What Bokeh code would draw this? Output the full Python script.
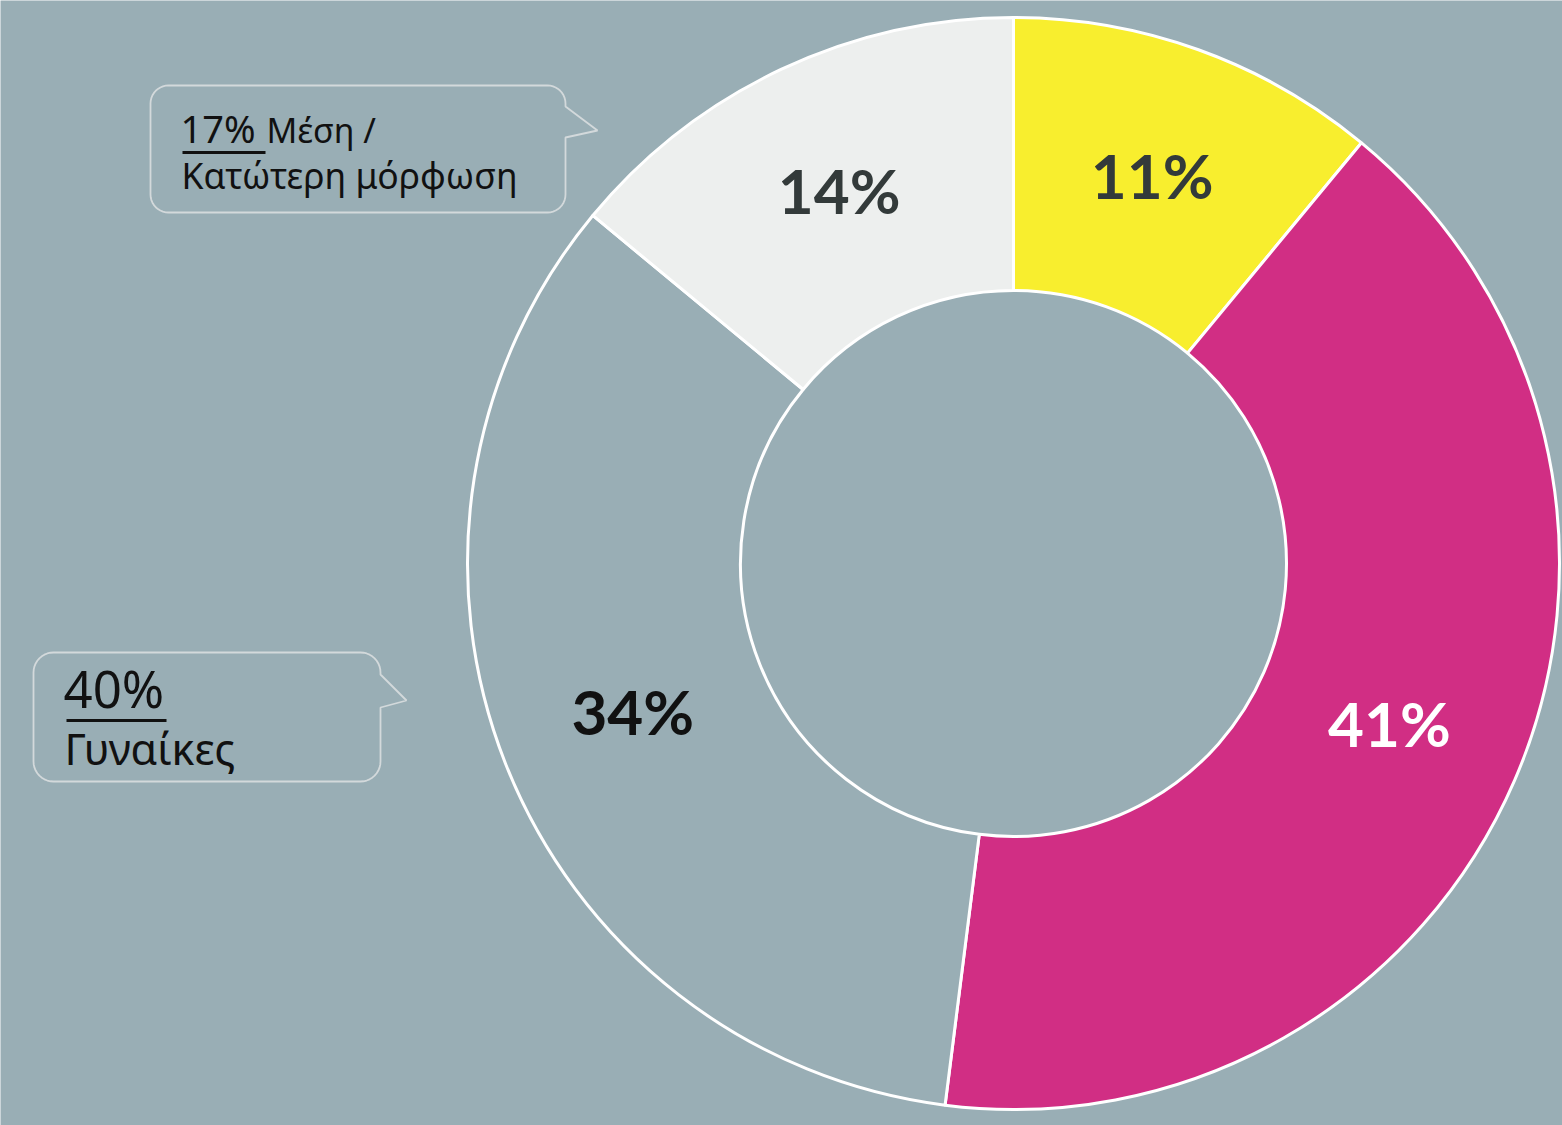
import math
from bokeh.plotting import figure
from bokeh.models import Range1d, ColumnDataSource
from bokeh.core.properties import value
from bokeh.embed import file_html
from bokeh.resources import INLINE

# ---- data ----
labels = ["11%", "41%", "34%", "14%"]
values = [11, 41, 34, 14]
slice_colors = ["#F8EE2E", "#D12E84", "#99AEB5", "#EDEFEE"]
label_colors = ["#333A3A", "#FFFFFF", "#111111", "#333A3A"]

callout1_pct = "17% "
callout1_line1 = "Μέση /"
callout1_line2 = "Κατώτερη μόρφωση"
callout2_pct = "40%"
callout2_line2 = "Γυναίκες"

BG = "#99AEB5"
W, H = 1562, 1125


def X(px):
    return px


def Y(py):
    return H - py


p = figure(width=W, height=H, output_backend="svg", toolbar_location=None,
           x_range=Range1d(0, W), y_range=Range1d(0, H),
           min_border=0, background_fill_color=BG, border_fill_color=BG)
p.axis.visible = False
p.grid.visible = False
p.outline_line_color = None

cx, cy = X(1013), Y(563)
r_out, r_in = 546, 273

total = float(sum(values))
starts, ends, lx, ly = [], [], [], []
cum = 0.0
for v in values:
    a0 = math.pi / 2 - 2 * math.pi * cum / total
    cum += v
    a1 = math.pi / 2 - 2 * math.pi * cum / total
    starts.append(a0)
    ends.append(a1)
    mid = (a0 + a1) / 2
    rm = (r_in + r_out) / 2
    lx.append(cx + rm * math.cos(mid))
    ly.append(cy + rm * math.sin(mid))

src = ColumnDataSource(dict(start=starts, end=ends, color=slice_colors,
                            label=labels, lx=lx, ly=ly, lc=label_colors))
p.annular_wedge(x=cx, y=cy, inner_radius=r_in, outer_radius=r_out,
                start_angle="start", end_angle="end", direction="clock",
                fill_color="color", line_color="white", line_width=3, source=src)
p.text(x="lx", y="ly", text="label", source=src, text_color="lc",
       text_font=value("Lato"), text_font_style="bold", text_font_size="62px",
       text_align="center", text_baseline="middle", y_offset=-3)


# ---- callout boxes ----
def callout_path(left, top, right, bottom, rad, tail_top, tip_x, tip_y, tail_bot):
    xs, ys = [], []

    def arc(cxp, cyp, a0, a1, n=10):
        for i in range(n + 1):
            a = math.radians(a0 + (a1 - a0) * i / n)
            xs.append(X(cxp + rad * math.cos(a)))
            ys.append(Y(cyp - rad * math.sin(a)))

    arc(left + rad, top + rad, 180, 90)          # top-left
    arc(right - rad, top + rad, 90, 0)           # top-right
    xs.append(X(right)); ys.append(Y(tail_top))
    xs.append(X(tip_x)); ys.append(Y(tip_y))
    xs.append(X(right)); ys.append(Y(tail_bot))
    arc(right - rad, bottom - rad, 0, -90)       # bottom-right
    arc(left + rad, bottom - rad, -90, -180)     # bottom-left
    xs.append(xs[0]); ys.append(ys[0])
    return xs, ys


for box in [(150, 85, 565, 212, 18, 106, 597, 130, 137),
            (33, 652, 380, 781, 20, 674, 406, 700, 707)]:
    bx, by = callout_path(*box)
    p.patch(bx, by, fill_color=BG, line_color="#D3D9DB", line_width=1.8)

TXT = "#111111"
FONT = value("Noto Sans")


def label_text(px, baseline_py, txt, size):
    p.text(x=[X(px)], y=[Y(baseline_py)], text=[txt], text_font=FONT,
           text_font_size="%.1fpx" % size, text_color=TXT, text_align="left",
           text_baseline="alphabetic", y_offset=-0.4 * size)


# callout 1
label_text(180, 143, callout1_pct, 38)
label_text(266, 143, callout1_line1, 34)
label_text(181, 189, callout1_line2, 35.5)
p.segment(x0=[X(182)], y0=[Y(152)], x1=[X(265)], y1=[Y(152)], line_color=TXT, line_width=3)

# callout 2
label_text(63, 708, callout2_pct, 51)
label_text(64, 765, callout2_line2, 43)
p.segment(x0=[X(66)], y0=[Y(720)], x1=[X(166)], y1=[Y(720)], line_color=TXT, line_width=3)

html = file_html(p, INLINE)
html = html.replace("<body>", '<body style="background:%s">' % BG, 1)
open("out.html", "w").write(html)
